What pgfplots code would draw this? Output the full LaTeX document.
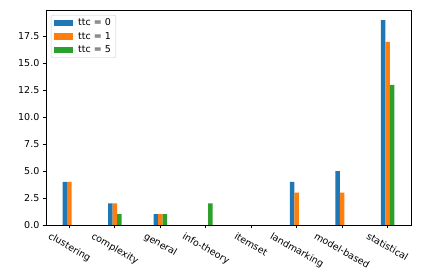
\documentclass[border=0pt]{standalone}
\usepackage{pgfplots}
\usepackage{graphicx}
\pgfplotsset{compat=1.18}
\usepackage{fontspec}
\setmainfont{DejaVu Sans}
\definecolor{tabblue}{HTML}{1F77B4}
\definecolor{taborange}{HTML}{FF7F0E}
\definecolor{tabgreen}{HTML}{2CA02C}
\begin{document}
\fontsize{9.5bp}{11bp}\selectfont
\begin{tikzpicture}
\begin{axis}[
  scale only axis,
  width=365bp, height=215bp,
  xmin=-0.515, xmax=7.515,
  ymin=0, ymax=19.95,
  axis line style={line width=0.76bp},
  tick style={line width=0.76bp, black},
  tick align=outside,
  major tick length=3.3bp,
  xtick={0,1,2,3,4,5,6,7},
  xticklabels={{\rotatebox{-30}{clustering}},{\rotatebox{-30}{complexity}},{\rotatebox{-30}{general}},{\rotatebox{-30}{info-theory}},{\rotatebox{-30}{itemset}},{\rotatebox{-30}{landmarking}},{\rotatebox{-30}{model-based}},{\rotatebox{-30}{statistical}}},
  ytick={0,2.5,5,7.5,10,12.5,15,17.5},
  xtick pos=bottom, ytick pos=left,
  yticklabel style={/pgf/number format/.cd, fixed, fixed zerofill, precision=1, assume math mode=true},
  xticklabel style={anchor=north, inner sep=0pt, yshift=-3.3bp},
  ticklabel style={font=\fontsize{9.5bp}{11bp}\selectfont},
  legend cell align=left,
  legend style={at={(0,1)}, anchor=north west, xshift=5bp, yshift=-5bp,
    draw={rgb,255:red,204;green,204;blue,204}, rounded corners=2bp,
    fill=white, fill opacity=0.8, text opacity=1,
    font=\fontsize{9.5bp}{11bp}\selectfont, inner xsep=3bp, inner ysep=1.5bp,
    row sep=1.2bp},
  ybar, bar width=0.1,
  legend image code/.code={\fill[#1, sharp corners, fill opacity=1] (0bp,-3.3bp) rectangle (19bp,3.3bp); \path (0bp,0bp) -- (22bp,0bp);},
]
\addplot[fill=tabblue, draw=none, bar shift=-0.1] coordinates {(0,4) (1,2) (2,1) (3,0) (4,0) (5,4) (6,5) (7,19)};
\addlegendentry{ttc = 0}
\addplot[fill=taborange, draw=none, bar shift=0] coordinates {(0,4) (1,2) (2,1) (3,0) (4,0) (5,3) (6,3) (7,17)};
\addlegendentry{ttc = 1}
\addplot[fill=tabgreen, draw=none, bar shift=0.1] coordinates {(0,0) (1,1) (2,1) (3,2) (4,0) (5,0) (6,0) (7,13)};
\addlegendentry{ttc = 5}
\end{axis}
\pgfresetboundingbox
\path ([shift={(-46bp,-54bp)}]current axis.south west) rectangle ([shift={(29bp,10bp)}]current axis.north east);
\end{tikzpicture}
\end{document}
